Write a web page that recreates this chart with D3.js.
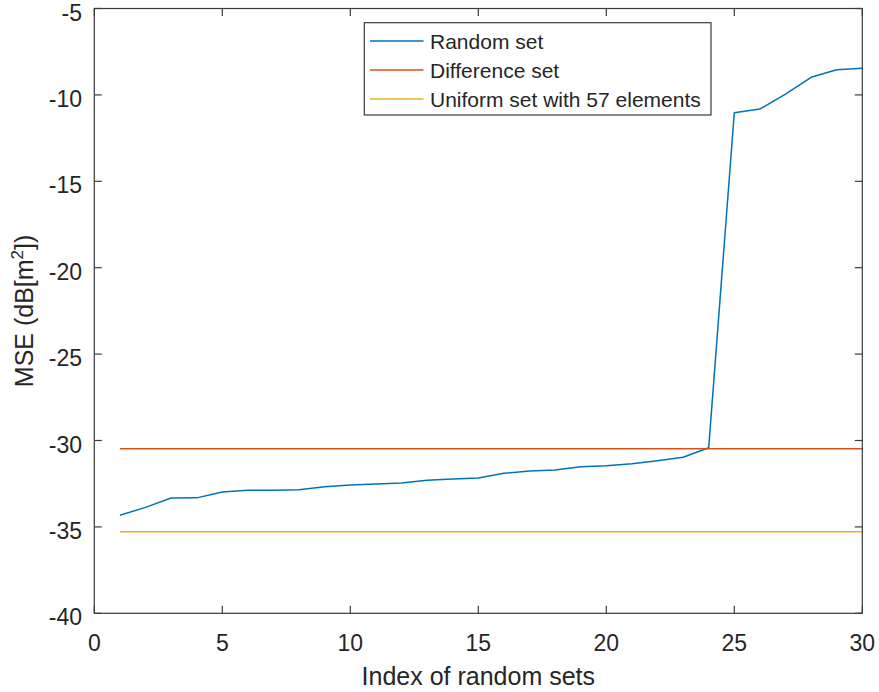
<!DOCTYPE html>
<html><head><meta charset="utf-8">
<script src="https://cdn.jsdelivr.net/npm/d3@7"></script>
<style>body{margin:0;background:#fff;} text{font-family:"Liberation Sans",Arial,Helvetica,sans-serif;fill:#262626;}</style>
</head><body><svg id="c" width="879" height="692"></svg>
<script>
const indices = d3.range(1, 31);
const randomSet = [-34.33,-33.87,-33.33,-33.32,-32.98,-32.88,-32.88,-32.85,-32.67,-32.57,-32.52,-32.46,-32.30,-32.23,-32.17,-31.90,-31.77,-31.71,-31.52,-31.46,-31.34,-31.17,-30.97,-30.42,-11.03,-10.82,-9.95,-8.98,-8.54,-8.46];
const differenceSet = -30.48;
const uniformSet = -35.28;
const xTicks = [0,5,10,15,20,25,30];
const yTicks = [-40,-35,-30,-25,-20,-15,-10,-5];
const seriesNames = ["Random set","Difference set","Uniform set with 57 elements"];
const colors = ["#0072BD","#D95319","#EDB120"];

const svg = d3.select("#c");
const L = 94.3, R = 862.3, T = 8.5, B = 613.3;
const x = d3.scaleLinear().domain([0,30]).range([L,R]);
const y = d3.scaleLinear().domain([-40,-5]).range([B,T]);
const axisColor = "#3a3a3a";

const g = svg.append("g");
// lines
const line = d3.line().x((d,i)=>x(indices[i])).y(d=>y(d));
g.append("path").datum(randomSet).attr("d", line).attr("fill","none").attr("stroke",colors[0]).attr("stroke-width",1.5).attr("stroke-linejoin","round");
g.append("line").attr("x1",x(1)).attr("x2",x(30)).attr("y1",y(differenceSet)).attr("y2",y(differenceSet)).attr("stroke",colors[1]).attr("stroke-width",1.5);
g.append("line").attr("x1",x(1)).attr("x2",x(30)).attr("y1",y(uniformSet)).attr("y2",y(uniformSet)).attr("stroke",colors[2]).attr("stroke-width",1.5);

// axes
const tl = 7.5;
const ax = svg.append("g");
ax.append("rect").attr("x",L).attr("y",T).attr("width",R-L).attr("height",B-T).attr("fill","none").attr("stroke",axisColor).attr("stroke-width",1.2);
xTicks.forEach(t=>{
  ax.append("line").attr("x1",x(t)).attr("x2",x(t)).attr("y1",B).attr("y2",B-tl).attr("stroke",axisColor).attr("stroke-width",1.2);
  ax.append("line").attr("x1",x(t)).attr("x2",x(t)).attr("y1",T).attr("y2",T+tl).attr("stroke",axisColor).attr("stroke-width",1.2);
  ax.append("text").attr("x",x(t)).attr("y",651).attr("text-anchor","middle").attr("font-size",23).text(d3.format("d")(t));
});
yTicks.forEach(t=>{
  ax.append("line").attr("x1",L).attr("x2",L+tl).attr("y1",y(t)).attr("y2",y(t)).attr("stroke",axisColor).attr("stroke-width",1.2);
  ax.append("line").attr("x1",R).attr("x2",R-tl).attr("y1",y(t)).attr("y2",y(t)).attr("stroke",axisColor).attr("stroke-width",1.2);
  ax.append("text").attr("x",82).attr("y",y(t)+12).attr("text-anchor","end").attr("font-size",23).text(String(t).replace("-","-"));
});
ax.append("text").attr("x",(L+R)/2).attr("y",685).attr("text-anchor","middle").attr("font-size",25).text("Index of random sets");
const yl = ax.append("text").attr("transform",`translate(33,${(T+B)/2}) rotate(-90)`).attr("text-anchor","middle").attr("font-size",25);
yl.append("tspan").text("MSE (dB[m");
yl.append("tspan").attr("font-size",17).attr("dy",-10).text("2");
yl.append("tspan").attr("dy",10).text("])");

// legend
const lg = svg.append("g");
lg.append("rect").attr("x",364.3).attr("y",22.7).attr("width",346.7).attr("height",92.3).attr("fill","#fff").attr("stroke",axisColor).attr("stroke-width",1.2);
seriesNames.forEach((n,i)=>{
  const cy = 41 + i*29;
  lg.append("line").attr("x1",370).attr("x2",423.5).attr("y1",cy).attr("y2",cy).attr("stroke",colors[i]).attr("stroke-width",1.5);
  lg.append("text").attr("x",430).attr("y",cy+7.5).attr("font-size",21).text(n);
});
</script></body></html>
